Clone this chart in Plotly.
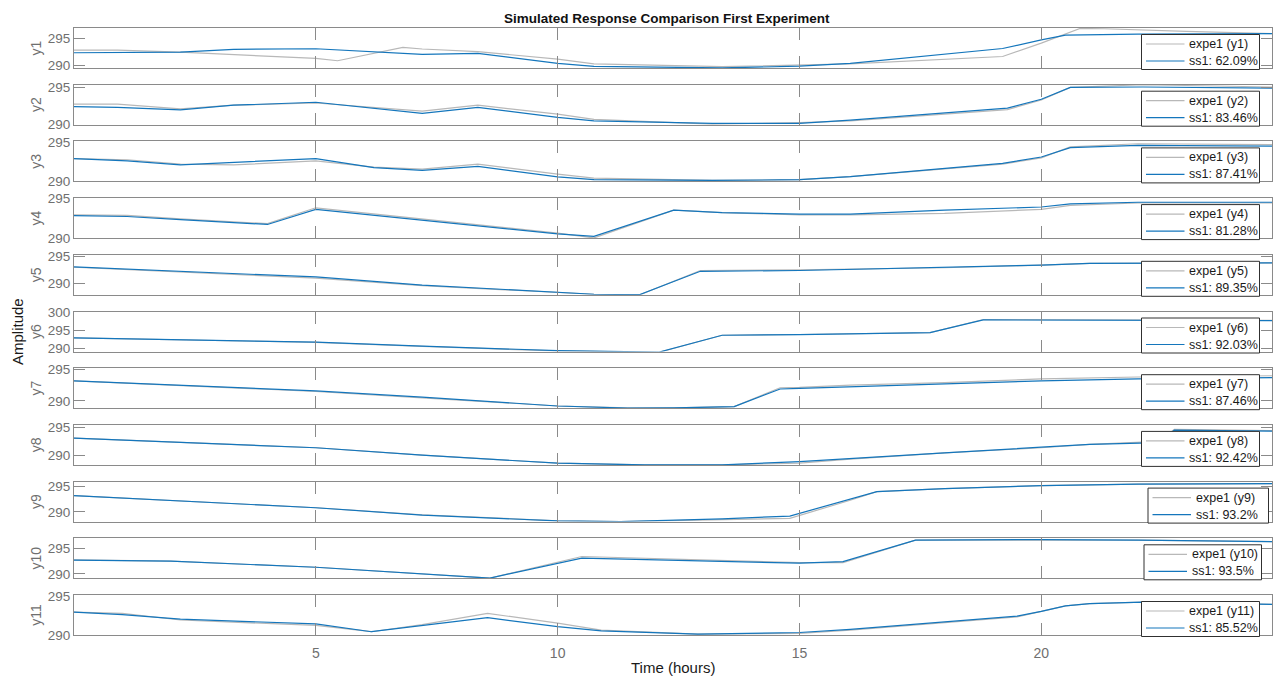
import plotly.graph_objects as go
from plotly.subplots import make_subplots

# ---- data: measured (expe1) and simulated (ss1) outputs, time in hours ----
t_y1_expe = [0, 0.9, 2.2, 3.3, 5.0, 5.45, 6.8, 7.2, 8.35, 10.0, 10.75, 13.4, 15.0, 16.05, 19.2, 20.0, 20.8, 21.3, 23.0, 24.77]
expe_y1 = [292.8, 292.8, 292.4, 292.0, 291.25, 290.8, 293.3, 293.0, 292.5, 291.1, 290.2, 289.7, 290.0, 290.2, 291.6, 294.1, 296.85, 296.8, 296.3, 295.9]
t_y1_ss1 = [0, 2.2, 3.3, 5.0, 7.2, 8.35, 10.0, 10.75, 13.4, 15.0, 16.05, 19.2, 20.0, 20.5, 22.0, 24.77]
ss1_y1 = [292.3, 292.4, 292.95, 293.05, 292.0, 292.2, 290.3, 289.75, 289.45, 289.8, 290.3, 293.1, 294.7, 295.6, 295.8, 295.9]

t_y2 = [0, 0.9, 2.2, 3.3, 5.0, 7.2, 8.35, 10.0, 10.75, 13.2, 15.0, 16.05, 19.3, 20.0, 20.6, 22.1, 24.77]
expe_y2 = [292.75, 292.75, 292.1, 292.6, 292.9, 291.8, 292.6, 291.4, 290.7, 290.07, 290.25, 290.5, 292.0, 293.3, 295.0, 295.35, 295.05]
ss1_y2 = [292.4, 292.3, 291.97, 292.6, 293.0, 291.5, 292.3, 290.97, 290.5, 290.15, 290.15, 290.6, 292.2, 293.4, 295.0, 295.05, 294.9]

t_y3 = [0, 1.1, 2.2, 3.3, 5.0, 6.2, 7.2, 8.35, 10.0, 10.75, 13.2, 15.0, 16.05, 19.2, 20.0, 20.6, 22.0, 24.77]
expe_y3 = [292.9, 292.75, 292.2, 292.1, 292.6, 291.8, 291.55, 292.2, 290.9, 290.4, 290.1, 290.2, 290.6, 292.2, 293.0, 294.4, 294.8, 294.7]
ss1_y3 = [292.9, 292.6, 292.1, 292.4, 292.9, 291.75, 291.4, 291.9, 290.55, 290.2, 290.1, 290.2, 290.6, 292.3, 293.1, 294.3, 294.6, 294.5]

t_y4 = [0, 1.1, 2.2, 4.0, 5.0, 10.0, 10.75, 12.4, 13.4, 15.0, 16.05, 18.0, 20.0, 20.6, 22.0, 24.77]
expe_y4 = [292.9, 292.85, 292.4, 291.8, 293.8, 290.6, 290.0, 293.5, 293.2, 292.9, 292.9, 293.1, 293.6, 294.1, 294.4, 294.4]
ss1_y4 = [292.8, 292.7, 292.3, 291.7, 293.6, 290.5, 290.2, 293.5, 293.2, 293.0, 293.0, 293.5, 293.9, 294.3, 294.5, 294.5]

t_y5 = [0, 5.0, 7.2, 10.0, 10.75, 11.7, 12.95, 15.0, 16.05, 18.0, 20.0, 21.0, 24.77]
expe_y5 = [293.0, 291.0, 289.6, 288.3, 288.0, 287.9, 292.4, 292.5, 292.6, 292.9, 293.4, 293.7, 293.8]
ss1_y5 = [293.05, 291.2, 289.7, 288.3, 288.0, 287.95, 292.25, 292.4, 292.6, 292.9, 293.4, 293.7, 293.8]

t_y6 = [0, 5.0, 7.2, 10.0, 12.1, 13.4, 15.0, 16.05, 17.7, 18.8, 22.0, 24.77]
expe_y6 = [293.0, 291.75, 290.65, 289.4, 289.05, 293.7, 293.9, 294.05, 294.4, 298.0, 298.0, 297.8]
ss1_y6 = [293.0, 291.8, 290.7, 289.5, 289.1, 293.7, 293.85, 294.0, 294.4, 297.9, 297.9, 297.7]

t_y7 = [0, 5.0, 7.2, 10.0, 11.45, 12.4, 13.65, 14.6, 15.0, 16.05, 18.0, 20.0, 22.0, 24.77]
expe_y7 = [293.2, 291.5, 290.5, 289.2, 288.9, 288.9, 289.1, 292.1, 292.15, 292.5, 292.9, 293.5, 293.8, 294.0]
ss1_y7 = [293.2, 291.6, 290.6, 289.2, 288.85, 288.9, 289.1, 291.9, 292.0, 292.25, 292.7, 293.2, 293.5, 293.7]

t_y8 = [0, 5.0, 7.2, 10.0, 11.8, 13.4, 15.0, 16.05, 18.0, 20.0, 21.0, 22.45, 22.75, 24.77]
expe_y8 = [293.1, 291.4, 290.1, 288.7, 288.4, 288.4, 288.7, 289.4, 290.5, 291.4, 292.0, 292.5, 294.6, 294.4]
ss1_y8 = [293.1, 291.4, 290.1, 288.7, 288.4, 288.4, 288.97, 289.55, 290.5, 291.5, 292.0, 292.3, 294.5, 294.3]

t_y9 = [0, 5.0, 7.2, 10.0, 11.3, 13.4, 14.8, 16.05, 16.6, 18.0, 20.0, 22.0, 24.77]
expe_y9 = [293.2, 290.8, 289.4, 288.2, 288.05, 288.5, 288.7, 292.3, 294.0, 294.6, 295.2, 295.5, 295.6]
ss1_y9 = [293.2, 290.8, 289.35, 288.2, 288.05, 288.6, 289.15, 292.6, 294.0, 294.6, 295.2, 295.5, 295.6]

t_y10 = [0, 2.0, 5.0, 8.6, 10.5, 15.0, 15.9, 17.4, 20.0, 22.0, 24.77]
expe_y10 = [292.75, 292.5, 291.3, 289.2, 293.4, 292.2, 292.2, 296.6, 296.6, 296.6, 296.3]
ss1_y10 = [292.7, 292.5, 291.3, 289.2, 293.1, 292.1, 292.4, 296.6, 296.7, 296.6, 296.3]

t_y11 = [0, 1.0, 2.2, 5.0, 6.15, 7.2, 8.55, 10.0, 10.9, 12.9, 15.0, 16.05, 19.5, 20.0, 20.5, 21.0, 22.1, 24.77]
expe_y11 = [292.9, 292.75, 291.9, 291.2, 290.4, 291.3, 292.75, 291.5, 290.6, 290.1, 290.2, 290.6, 292.3, 293.0, 293.7, 294.0, 294.2, 293.9]
ss1_y11 = [292.9, 292.6, 292.0, 291.4, 290.4, 291.2, 292.2, 291.05, 290.5, 290.1, 290.3, 290.7, 292.4, 293.0, 293.7, 294.0, 294.2, 293.9]

output_names = ["y1", "y2", "y3", "y4", "y5", "y6", "y7", "y8", "y9", "y10", "y11"]
fit_percent = ["62.09%", "83.46%", "87.41%", "81.28%", "89.35%", "92.03%",
               "87.46%", "92.42%", "93.2%", "93.5%", "85.52%"]
y_limits = [[289.44, 296.94], [289.98, 295.36], [289.98, 295.1], [289.98, 295.02],
            [287.9, 295.3], [289.25, 300.2], [288.85, 295.2], [288.4, 295.4],
            [288.05, 296.0], [289.15, 296.95], [289.98, 295.1]]
x_ticks = [5, 10, 15, 20]
y_ticks = [290, 295, 300]

series = [
    (t_y1_expe, expe_y1, t_y1_ss1, ss1_y1),
    (t_y2, expe_y2, t_y2, ss1_y2),
    (t_y3, expe_y3, t_y3, ss1_y3),
    (t_y4, expe_y4, t_y4, ss1_y4),
    (t_y5, expe_y5, t_y5, ss1_y5),
    (t_y6, expe_y6, t_y6, ss1_y6),
    (t_y7, expe_y7, t_y7, ss1_y7),
    (t_y8, expe_y8, t_y8, ss1_y8),
    (t_y9, expe_y9, t_y9, ss1_y9),
    (t_y10, expe_y10, t_y10, ss1_y10),
    (t_y11, expe_y11, t_y11, ss1_y11),
]

# ---- page geometry (pixels) ----
W, H = 1275, 677
P_LEFT, P_RIGHT, P_TOP, P_BOT = 74, 1272, 28, 635
PANEL_H, PITCH = 40.0, 56.7
FONT = "Liberation Sans, Arial, Helvetica, sans-serif"
AX_GRAY = "#8a8a8a"
TXT_GRAY = "#6f6f6f"
MEAS_GRAY = "rgb(184,184,184)"
SIM_BLUE = "rgb(20,118,188)"

# per-panel legend box edges (left, right) in pixels
legend_x = [(1141.5, 1259.5)] * 8 + [(1148, 1268.5), (1144, 1261.5), (1141.5, 1259.5)]


def fy(p):
    """pixel row -> paper y"""
    return (P_BOT - p) / (P_BOT - P_TOP)


def fx(p):
    """pixel column -> paper x"""
    return (p - P_LEFT) / (P_RIGHT - P_LEFT)


n = len(output_names)
fig = make_subplots(rows=n, cols=1, shared_xaxes=True)
shapes, notes = [], []

for i, (name, fit, (te, ve, ts, vs)) in enumerate(zip(output_names, fit_percent, series)):
    row = i + 1
    meas_label = f"expe1 ({name})"
    sim_label = f"ss1: {fit}"
    fig.add_trace(go.Scatter(x=te, y=ve, mode="lines", name=meas_label, showlegend=False,
                             line=dict(color=MEAS_GRAY, width=1.2)),
                  row=row, col=1)
    fig.add_trace(go.Scatter(x=ts, y=vs, mode="lines", name=sim_label, showlegend=False,
                             line=dict(color=SIM_BLUE, width=1.2)),
                  row=row, col=1)

    top = P_TOP + i * PITCH
    bot = top + PANEL_H
    sfx = "" if i == 0 else str(i + 1)
    fig.layout["yaxis" + sfx].update(
        domain=[fy(bot), fy(top)], range=y_limits[i], tickvals=y_ticks,
        ticks="inside", ticklen=11, tickcolor=AX_GRAY, tickwidth=1,
        showline=True, linecolor=AX_GRAY, linewidth=1, mirror="ticks",
        showgrid=False, zeroline=False,
        tickfont=dict(family=FONT, size=13.5, color=TXT_GRAY),
        title=dict(text=name, font=dict(family=FONT, size=14, color=TXT_GRAY), standoff=2),
    )
    fig.layout["xaxis" + sfx].update(
        range=[0, 24.77], tickvals=x_ticks, ticks="inside", ticklen=12,
        tickcolor=AX_GRAY, tickwidth=1, showline=True, linecolor=AX_GRAY,
        linewidth=1, mirror="ticks", showgrid=False, zeroline=False,
        showticklabels=(i == n - 1), ticklabelstandoff=5,
        tickfont=dict(family=FONT, size=14, color=TXT_GRAY),
    )

    # legend box for this panel
    lx0, lx1 = legend_x[i]
    ly1 = bot + 1.5
    ly0 = ly1 - 35
    shapes.append(dict(type="rect", xref="paper", yref="paper",
                       x0=fx(lx0), x1=fx(lx1), y0=fy(ly1), y1=fy(ly0),
                       fillcolor="white", line=dict(color="#303030", width=1), layer="above"))
    for k, (lab, col) in enumerate([(meas_label, MEAS_GRAY), (sim_label, SIM_BLUE)]):
        yy = ly0 + 9.5 + k * 17
        shapes.append(dict(type="line", xref="paper", yref="paper",
                           x0=fx(lx0 + 4.5), x1=fx(lx0 + 43), y0=fy(yy), y1=fy(yy),
                           line=dict(color=col, width=1.2), layer="above"))
        notes.append(dict(text=lab, xref="paper", yref="paper", x=fx(lx0 + 45.5), y=fy(yy),
                          xanchor="left", yanchor="middle", showarrow=False,
                          font=dict(family=FONT, size=12.5, color="#1a1a1a")))

notes += [
    dict(text="<b>Simulated Response Comparison First Experiment</b>",
         xref="paper", yref="paper", x=fx(667), y=fy(18), xanchor="center",
         yanchor="middle", showarrow=False,
         font=dict(family=FONT, size=13.5, color="#111111")),
    dict(text="Amplitude", xref="paper", yref="paper", x=fx(17), y=fy(332),
         xanchor="center", yanchor="middle", textangle=-90, showarrow=False,
         font=dict(family=FONT, size=15, color="#1a1a1a")),
    dict(text="Time (hours)", xref="paper", yref="paper", x=fx(673), y=fy(667),
         xanchor="center", yanchor="middle", showarrow=False,
         font=dict(family=FONT, size=15, color="#1a1a1a")),
]

fig.update_layout(
    width=W, height=H,
    margin=dict(l=P_LEFT, r=W - P_RIGHT, t=P_TOP, b=H - P_BOT, pad=0),
    paper_bgcolor="white", plot_bgcolor="white",
    font=dict(family=FONT),
    showlegend=False,
    shapes=shapes,
    annotations=notes,
)

fig.write_html("out.html")
